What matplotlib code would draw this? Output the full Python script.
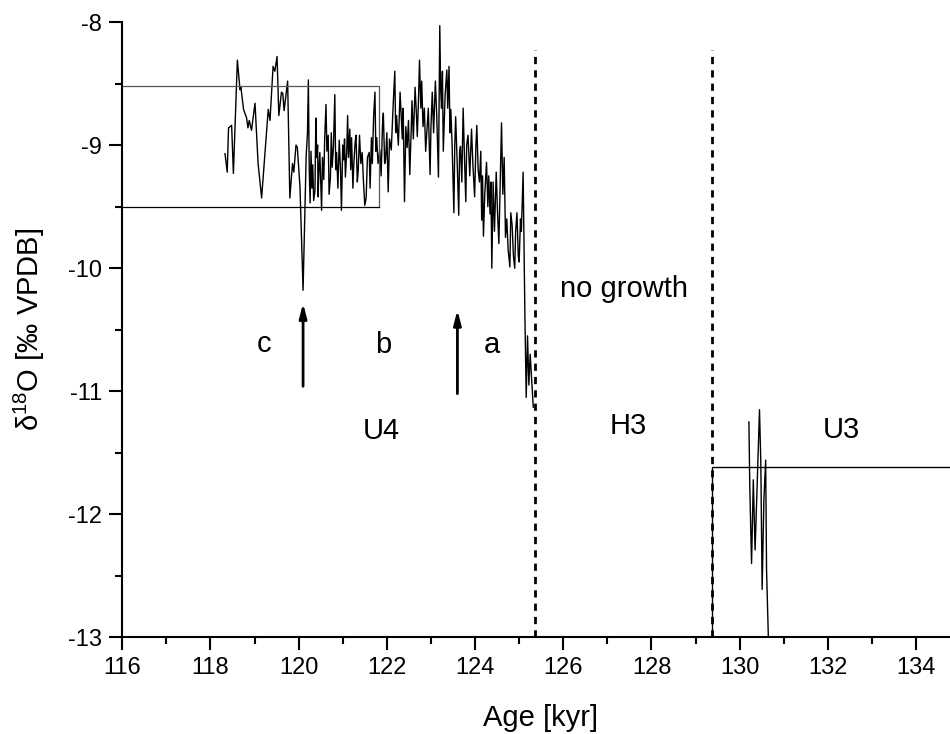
import matplotlib
matplotlib.use('Agg')
from matplotlib import pyplot as plt
from matplotlib.ticker import MultipleLocator

plt.rcParams['font.family'] = ['Liberation Sans', 'DejaVu Sans']
plt.rcParams['mathtext.default'] = 'regular'
plt.rcParams['axes.unicode_minus'] = False

# stalagmite record, growth phase U4 (kyr, permil VPDB)
age_u4 = [118.33, 118.38, 118.41, 118.48, 118.52, 118.61, 118.67, 118.69, 118.75, 118.82,
          118.85, 118.88, 118.93, 119.01, 119.08, 119.16, 119.24, 119.31, 119.35, 119.42,
          119.46, 119.51, 119.55, 119.61, 119.64, 119.67, 119.75, 119.80, 119.86, 119.89,
          119.94, 119.97, 120.03, 120.10,
          120.17, 120.20, 120.22, 120.24, 120.26, 120.28, 120.30, 120.32, 120.34, 120.37,
          120.39, 120.41, 120.43, 120.44, 120.46, 120.48, 120.50, 120.52, 120.54, 120.57,
          120.59, 120.62, 120.64, 120.67, 120.69, 120.72, 120.74, 120.76, 120.79, 120.82,
          120.84, 120.86, 120.89, 120.92, 120.95, 120.97, 121.00, 121.02, 121.04, 121.06,
          121.09, 121.11, 121.13, 121.16, 121.18, 121.20, 121.23, 121.25, 121.28, 121.30,
          121.33, 121.35, 121.38, 121.41, 121.44, 121.47, 121.50, 121.53, 121.56, 121.60,
          121.62, 121.65, 121.67, 121.70, 121.73, 121.75, 121.77, 121.80, 121.84, 121.87,
          121.90, 121.92, 121.95, 121.97, 122.00, 122.03, 122.06, 122.10, 122.14, 122.18,
          122.20, 122.22, 122.26, 122.30, 122.33, 122.35, 122.37, 122.40, 122.43, 122.46,
          122.49, 122.52, 122.55, 122.57, 122.60, 122.64, 122.67, 122.69, 122.72, 122.74,
          122.77, 122.79, 122.82, 122.85, 122.88, 122.90, 122.94, 122.98, 123.00, 123.03,
          123.06, 123.10, 123.13, 123.17, 123.20, 123.22, 123.24, 123.26, 123.28, 123.32,
          123.36, 123.38, 123.41, 123.43, 123.45, 123.48, 123.52, 123.54, 123.56, 123.60,
          123.63, 123.65, 123.67, 123.70, 123.73, 123.76, 123.79, 123.81, 123.84, 123.88,
          123.92, 123.95, 123.99, 124.02, 124.04, 124.07, 124.10, 124.13, 124.15, 124.17,
          124.19, 124.22, 124.26, 124.29, 124.31, 124.34, 124.36, 124.38, 124.41, 124.44,
          124.48, 124.51, 124.54, 124.57, 124.60, 124.63, 124.66, 124.69, 124.72, 124.75,
          124.79, 124.81, 124.84, 124.87, 124.90, 124.92, 124.95, 124.98, 125.00, 125.03,
          125.05, 125.07, 125.09, 125.13, 125.16, 125.19, 125.22, 125.25, 125.32]
d18o_u4 = [-9.07, -9.22, -8.86, -8.84, -9.23, -8.31, -8.55, -8.53, -8.71, -8.78,
           -8.86, -8.80, -8.88, -8.66, -9.15, -9.43, -9.04, -8.71, -8.80, -8.36,
           -8.40, -8.28, -8.76, -8.57, -8.58, -8.72, -8.48, -9.43, -9.15, -9.22,
           -9.00, -9.02, -9.34, -10.18,
           -9.09, -8.90, -8.47, -9.20, -9.47, -9.05, -9.35, -9.16, -9.45, -9.37,
           -8.78, -9.10, -9.00, -9.42, -9.20, -9.06, -9.30, -9.53, -9.10, -9.28,
           -8.95, -8.67, -9.05, -8.92, -9.40, -9.26, -8.90, -9.18, -9.00, -8.59,
           -9.20, -9.06, -9.35, -8.96, -9.20, -9.53, -9.00, -9.12, -8.95, -9.26,
           -9.05, -8.76, -9.10, -8.87, -9.20, -8.94, -9.35, -9.16, -8.98, -8.92,
           -9.30, -9.21, -8.92, -9.15, -9.06, -9.30, -9.49, -9.43, -9.10, -9.06,
           -9.35, -8.94, -9.15, -8.77, -8.57, -9.05, -8.94, -9.15, -9.04, -9.25,
           -8.85, -8.74, -9.15, -9.12, -8.90, -9.38, -8.95, -9.04, -8.70, -8.40,
           -8.90, -8.76, -9.00, -8.57, -8.80, -8.95, -8.70, -9.46, -8.85, -9.02,
           -8.80, -9.24, -8.90, -8.64, -8.95, -8.53, -8.75, -8.93, -8.60, -8.31,
           -8.70, -8.48, -8.85, -8.70, -9.05, -8.93, -8.70, -9.24, -8.85, -8.57,
           -8.90, -8.48, -8.75, -9.26, -8.03, -8.55, -8.70, -8.40, -9.05, -8.60,
           -8.39, -8.70, -8.36, -8.90, -8.71, -9.00, -9.55, -9.00, -8.77, -9.20,
           -9.57, -9.05, -9.01, -9.30, -8.70, -9.10, -9.46, -9.00, -8.92, -9.25,
           -8.87, -9.15, -9.42, -9.00, -8.84, -9.20, -9.30, -9.05, -9.61, -9.25,
           -9.74, -9.40, -9.14, -9.50, -9.25, -9.56, -9.30, -10.00, -9.30, -9.70,
           -9.22, -9.55, -9.80, -9.30, -8.82, -9.40, -9.10, -9.75, -9.60, -9.85,
           -9.99, -9.55, -9.65, -9.90, -10.00, -9.70, -9.55, -9.90, -9.95, -9.60,
           -9.70, -9.45, -9.22, -10.38, -11.05, -10.55, -10.95, -10.70, -11.13]

# growth phase U3
age_u3 = [130.21, 130.23, 130.27, 130.31, 130.35, 130.38, 130.45, 130.48, 130.51, 130.55,
          130.59, 130.61, 130.65]
d18o_u3 = [-11.25, -11.78, -12.40, -11.72, -12.29, -11.96, -11.15, -11.58, -12.61, -11.88,
           -11.56, -12.45, -12.99]

# hiatus boundaries and mean ranges
hiatus_bounds = [125.37, 129.37]
u4_range = (116.0, 121.82, -8.52, -9.50)
u3_level = -11.617
arrow_ages = [120.1, 123.6]

fig = plt.figure(figsize=(9.5, 7.34), dpi=100)
ax = fig.add_axes([0.1287, 0.1317, 0.8713, 0.8383])

ax.plot(age_u4, d18o_u4, color='black', lw=1.0)
ax.plot(age_u3, d18o_u3, color='black', lw=1.0)

# box for U4 range
x0, x1, ytop, ybot = u4_range
ax.plot([x0, x1, x1], [ytop, ytop, ybot], color='#555555', lw=0.9)
ax.plot([x0, x1], [ybot, ybot], color='black', lw=0.9)

# U3 level
ax.plot([hiatus_bounds[1], hiatus_bounds[1], 136], [-13, u3_level, u3_level], color='black', lw=1.0)

for xb in hiatus_bounds:
    ax.plot([xb, xb], [-13, -8.23], color='black', lw=2.0, dashes=(2.6, 2.2))

# arrows
ax.annotate('', xy=(arrow_ages[0], -10.285), xytext=(arrow_ages[0], -10.96),
            arrowprops=dict(arrowstyle='-|>,head_length=0.85,head_width=0.22', lw=2.0,
                            color='black', mutation_scale=10, shrinkA=0, shrinkB=0))
ax.annotate('', xy=(arrow_ages[1], -10.34), xytext=(arrow_ages[1], -11.02),
            arrowprops=dict(arrowstyle='-|>,head_length=0.85,head_width=0.22', lw=2.0,
                            color='black', mutation_scale=10, shrinkA=0, shrinkB=0))

tsize = 21
ax.text(119.21, -10.678, 'c', ha='center', va='baseline', fontsize=tsize)
ax.text(121.92, -10.686, 'b', ha='center', va='baseline', fontsize=tsize)
ax.text(124.38, -10.686, 'a', ha='center', va='baseline', fontsize=tsize)
ax.text(121.88, -11.39, 'U4', ha='center', va='baseline', fontsize=tsize)
ax.text(127.38, -10.234, 'no growth', ha='center', va='baseline', fontsize=tsize)
ax.text(127.47, -11.347, 'H3', ha='center', va='baseline', fontsize=tsize)
ax.text(132.31, -11.38, 'U3', ha='center', va='baseline', fontsize=tsize)

ax.set_xlim(116, 134.77)
ax.set_ylim(-13, -8)
ax.xaxis.set_major_locator(MultipleLocator(2))
ax.xaxis.set_minor_locator(MultipleLocator(1))
ax.yaxis.set_major_locator(MultipleLocator(1))
ax.yaxis.set_minor_locator(MultipleLocator(0.5))
ax.tick_params(which='major', direction='out', length=9.5, width=1.5, labelsize=17, pad=5)
ax.tick_params(which='minor', direction='out', length=5, width=1.5)
ax.spines['top'].set_visible(False)
ax.spines['right'].set_visible(False)
for s in ['left', 'bottom']:
    ax.spines[s].set_linewidth(1.5)

ax.set_xlabel('Age [kyr]', fontsize=21)
ax.xaxis.set_label_coords(0.505, -0.108)
ax.set_ylabel('δ$^{18}$O [‰ VPDB]', fontsize=21, va='center')
ax.yaxis.set_label_coords(-0.112, 0.5)

fig.savefig('out.png', dpi=100)
